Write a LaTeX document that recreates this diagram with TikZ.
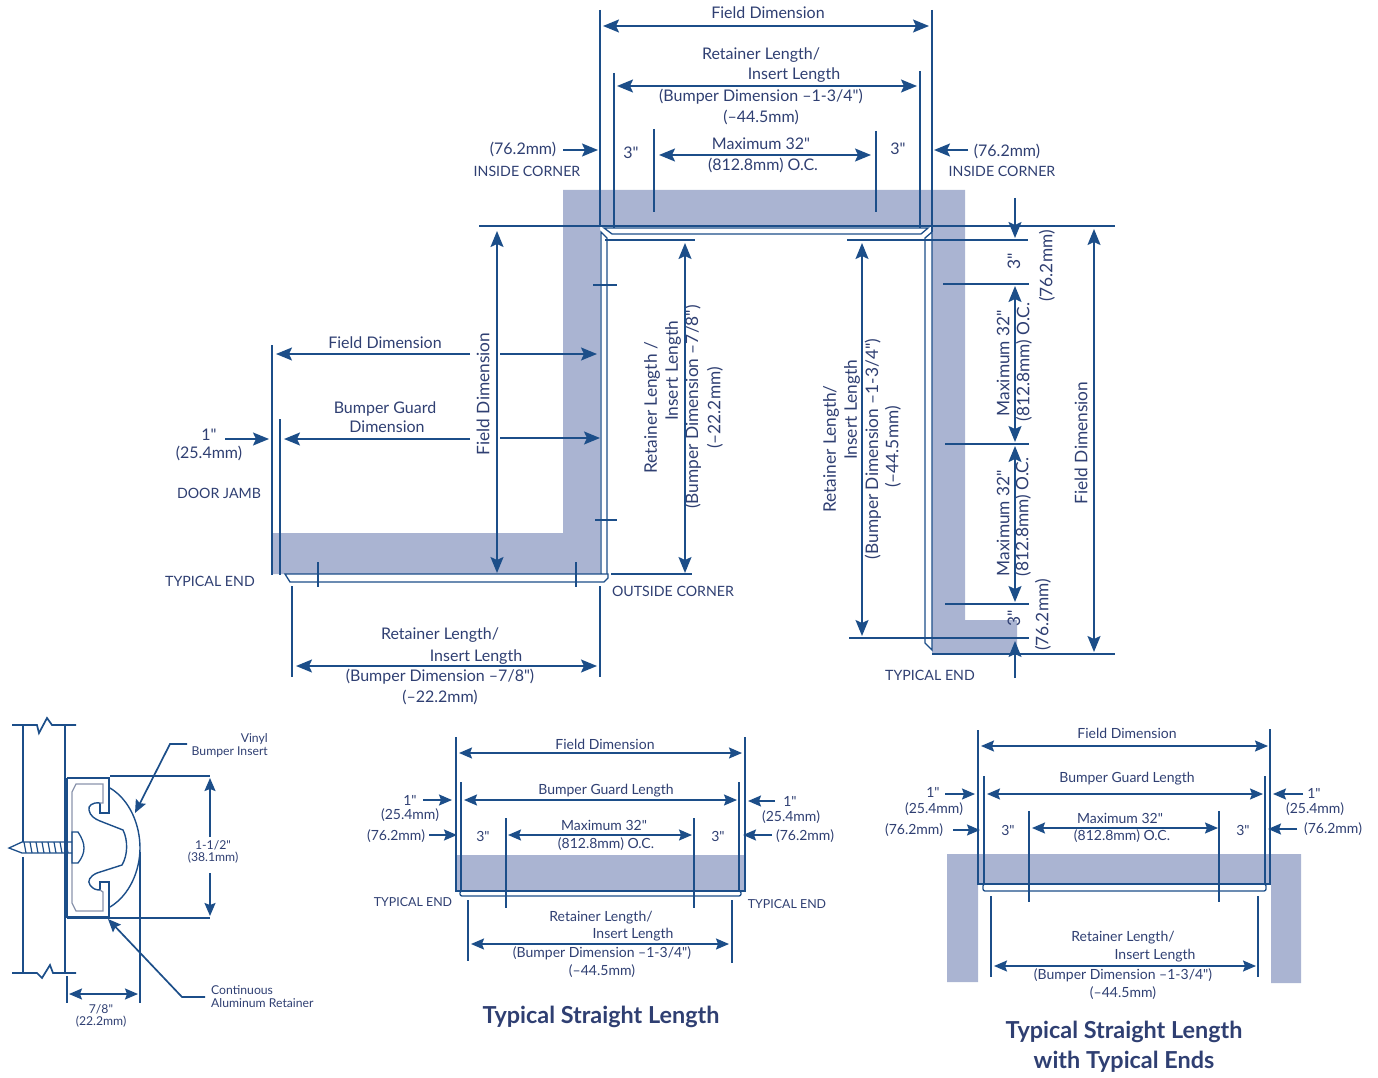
\documentclass[tikz,border=0pt]{standalone}
\usepackage{fontspec}
\setmainfont{Lato}[Ligatures=TeXOff]
\usetikzlibrary{arrows.meta}
\definecolor{dimblue}{HTML}{1C4E89}
\definecolor{bandblue}{HTML}{AAB4D2}
\definecolor{inkblue}{HTML}{2F3F72}
\definecolor{rimgrey}{HTML}{8A94AC}
\begin{document}
\begin{tikzpicture}[x=1pt,y=-1pt,
line/.style={draw=dimblue, line width=1.7pt},
dim/.style={line, {Stealth[length=16pt,width=13pt,inset=3pt]}-{Stealth[length=16pt,width=13pt,inset=3pt]}},
dimin/.style={line, -{Stealth[length=16pt,width=13pt,inset=3pt]}},
dimsm/.style={line, {Stealth[length=13pt,width=11pt,inset=2pt]}-{Stealth[length=13pt,width=11pt,inset=2pt]}},
dimsmin/.style={line, -{Stealth[length=13pt,width=11pt,inset=2pt]}},
rim/.style={draw=dimblue, line width=1.3pt, fill=white},
band/.style={fill=bandblue, draw=none},
lbl/.style={text=inkblue, inner sep=0pt, font=\fontsize{16}{16}\selectfont},
lblr/.style={text=inkblue, inner sep=0pt, rotate=90, font=\fontsize{17.3}{17}\selectfont},
lblc/.style={text=inkblue, inner sep=0pt, font=\fontsize{14.2}{14}\selectfont},
lblb/.style={text=inkblue, inner sep=0pt, font=\fontsize{14}{14}\selectfont},
lbld/.style={text=inkblue, inner sep=0pt, font=\fontsize{12.4}{12}\selectfont},
lbls/.style={text=inkblue, inner sep=0pt, font=\fontsize{12.2}{12}\selectfont},
ttl/.style={text=inkblue, inner sep=0pt, font=\fontsize{23.4}{24}\selectfont\bfseries}
]
\useasboundingbox (0,0) rectangle (1378,1078);
%Bands
\fill[band] (563,190) -- (965,190) -- (965,620) -- (1017,620) -- (1017,653) -- (932,653) -- (932,226) -- (600,226) -- (600,574) -- (272,574) -- (272,533) -- (563,533) -- cycle;
\fill[band] (456,855) rectangle (745,891);
\fill[band] (947,854) -- (1301,854) -- (1301,983) -- (1271,983) -- (1271,884) -- (978,884) -- (978,982) -- (947,982) -- cycle;
%Retainers
\draw[rim] (604,228) -- (928,228) -- (921,234) -- (612,234) -- cycle;
\draw[rim] (601,232) -- (607,238) -- (607,577) -- (601,574) -- cycle;
\draw[rim] (285,574) -- (608,574) -- (608,578) -- (604,582) -- (290,582) -- cycle;
\draw[rim] (932,232) -- (925,238) -- (925,643) -- (932,650) -- cycle;
\draw[rim, rounded corners=2pt] (460,891) -- (741,891) -- (741,896) -- (460,896) -- cycle;
\draw[rim, rounded corners=2pt] (983,884) -- (1266,884) -- (1266,891) -- (983,891) -- cycle;
%Corner nodes
\node[lbl] (fd1)  at (768,13)  {Field Dimension};
\node[lbl] (rl1)  at (761,55)  {Retainer Length/};
\node[lbl] (il1)  at (794,75)  {Insert Length};
\node[lbl] (bd1)  at (761,97)  {(Bumper Dimension –1-3/4")};
\node[lbl] (mm1)  at (761,117) {(–44.5mm)};
\node[lbl] (mx1)  at (761,144) {Maximum 32"};
\node[lbl] (oc1)  at (763,165) {(812.8mm) O.C.};
\node[lbl] (t1)   at (631,153) {3"};
\node[lbl] (t2)   at (898,149) {3"};
\node[lbl] (c1)   at (523,149) {(76.2mm)};
\node[lbl] (c2)   at (1007,151) {(76.2mm)};
\node[lblc] (ic1) at (527,171) {INSIDE CORNER};
\node[lblc] (ic2) at (1002,171) {INSIDE CORNER};
\node[lbl] (fd2)  at (385,343) {Field Dimension};
\node[lbl] (bg1)  at (385,409) {Bumper Guard};
\node[lbl] (bg2)  at (387,427) {Dimension};
\node[lbl] (in1)  at (209,435) {1"};
\node[lbl] (in2)  at (209,453) {(25.4mm)};
\node[lblc] (dj)  at (219,493) {DOOR JAMB};
\node[lblc] (te1) at (210,581) {TYPICAL END};
\node[lblc] (oc)  at (673,591) {OUTSIDE CORNER};
\node[lbl] (rl2)  at (440,635) {Retainer Length/};
\node[lbl] (il2)  at (476,657) {Insert Length};
\node[lbl] (bd2)  at (440,677) {(Bumper Dimension –7/8")};
\node[lbl] (mm2)  at (440,697) {(–22.2mm)};
\node[lblr] (fd3) at (483,394) {Field Dimension};
\node[lblr] (rl3) at (652,408) {Retainer Length /};
\node[lblr] (il3) at (673,371) {Insert Length};
\node[lblr] (bd3) at (693,407) {(Bumper Dimension –7/8")};
\node[lblr] (mm3) at (715,408) {(–22.2mm)};
\node[lblr] (rl4) at (831,449) {Retainer Length/};
\node[lblr] (il4) at (852,410) {Insert Length};
\node[lblr] (bd4) at (873,449) {(Bumper Dimension –1-3/4")};
\node[lblr] (mm4) at (893,447) {(–44.5mm)};
\node[lblr] (t3)  at (1014,261) {3"};
\node[lblr] (c3)  at (1047,266) {(76.2mm)};
\node[lblr] (mx2) at (1003,363) {Maximum 32"};
\node[lblr] (oc2) at (1024,362) {(812.8mm) O.C.};
\node[lblr] (mx3) at (1003,523) {Maximum 32"};
\node[lblr] (oc3) at (1023,517) {(812.8mm) O.C.};
\node[lblr] (t4)  at (1014,618) {3"};
\node[lblr] (c4)  at (1043,615) {(76.2mm)};
\node[lblr] (fd4) at (1081,443) {Field Dimension};
\node[lblc] (te2) at (930,675) {TYPICAL END};
%Corner lines
\draw[line] (600,10) -- (600,226);
\draw[line] (932,10) -- (932,232);
\draw[dim] (603,26) -- (929,26);
\draw[line] (614,73) -- (614,228);
\draw[line] (920,71) -- (920,228);
\draw[dim] (617,86) -- (917,86);
\draw[line] (654,129) -- (654,212);
\draw[line] (876,131) -- (876,212);
\draw[dim] (659,155) -- (871,155);
\draw[dimin] (563,150) -- (598,150);
\draw[dimin] (968,150) -- (934,150);
\draw[line] (479,226) -- (1115,226);
\draw[line] (605,240) -- (695,240);
\draw[line] (847,240) -- (1028,240);
\draw[line] (593,285) -- (617,285);
\draw[line] (595,520) -- (617,520);
\draw[dim] (497,231) -- (497,573);
\draw[dim] (685,243) -- (685,573);
\draw[line] (611,574) -- (692,574);
\draw[line] (272,345) -- (272,575);
\draw[line] (280,419) -- (280,575);
\draw[dimin] (470,354) -- (276,354);
\draw[dimin] (500,354) -- (597,354);
\draw[dimin] (470,439) -- (284,439);
\draw[dimin] (500,438) -- (600,438);
\draw[dimin] (225,439) -- (269,439);
\draw[line] (318,562) -- (318,587);
\draw[line] (576,562) -- (576,587);
\draw[line] (292,586) -- (292,677);
\draw[line] (600,586) -- (600,677);
\draw[dim] (296,666) -- (597,666);
\draw[dim] (862,243) -- (862,636);
\draw[line] (849,638) -- (1029,638);
\draw[line] (943,284) -- (1029,284);
\draw[line] (945,444) -- (1029,444);
\draw[line] (945,604) -- (1029,604);
\draw[dimin] (1015,198) -- (1015,238);
\draw[dim] (1015,286) -- (1015,442);
\draw[dim] (1015,446) -- (1015,602);
\draw[dimin] (1015,678) -- (1015,641);
\draw[line] (932,654) -- (1115,654);
\draw[dim] (1094,229) -- (1094,652);
%Straight length nodes
\node[lblb] (fd5)  at (605,744) {Field Dimension};
\node[lblb] (bl1)  at (606,791) {Bumper Guard Length};
\node[lblb] (in3)  at (410,800) {1"};
\node[lblb] (in4)  at (410,815) {(25.4mm)};
\node[lblb] (c5)   at (396,836) {(76.2mm)};
\node[lblb] (in5)  at (790,801) {1"};
\node[lblb] (in6)  at (791,817) {(25.4mm)};
\node[lblb] (c6)   at (805,836) {(76.2mm)};
\node[lblb] (t5)   at (483,836) {3"};
\node[lblb] (t6)   at (718,836) {3"};
\node[lblb] (mx4)  at (604,825) {Maximum 32"};
\node[lblb] (oc4)  at (606,844) {(812.8mm) O.C.};
\node[lbld] (te3)  at (413,902) {TYPICAL END};
\node[lbld] (te4)  at (787,904) {TYPICAL END};
\node[lblb] (rl5)  at (601,918) {Retainer Length/};
\node[lblb] (il5)  at (633,935) {Insert Length};
\node[lblb] (bd5)  at (602,953) {(Bumper Dimension –1-3/4")};
\node[lblb] (mm5)  at (602,971) {(–44.5mm)};
\node[ttl]  (ttl1) at (601,1017) {Typical Straight Length};
%Straight length lines
\draw[line] (456,737) -- (456,891) -- (745,891) -- (745,737);
\draw[dimsm] (459,753) -- (742,753);
\draw[line] (461,782) -- (461,891);
\draw[line] (739,782) -- (739,891);
\draw[dimsm] (464,800) -- (737,800);
\draw[line] (506,818) -- (506,908);
\draw[line] (694,818) -- (694,908);
\draw[dimsm] (508,835) -- (692,835);
\draw[line] (468,900) -- (468,961);
\draw[line] (732,900) -- (732,963);
\draw[dimsm] (471,944) -- (729,944);
\draw[dimsmin] (423,800) -- (452,800);
\draw[dimsmin] (775,801) -- (748,801);
\draw[dimsmin] (429,835) -- (457,835);
\draw[dimsmin] (772,835) -- (743,835);
%Typical ends nodes
\node[lblb] (fd6)  at (1127,733) {Field Dimension};
\node[lblb] (bl2)  at (1127,779) {Bumper Guard Length};
\node[lblb] (in7)  at (933,792)  {1"};
\node[lblb] (in8)  at (934,809)  {(25.4mm)};
\node[lblb] (c7)   at (914,830)  {(76.2mm)};
\node[lblb] (in9)  at (1314,793) {1"};
\node[lblb] (in10) at (1315,809) {(25.4mm)};
\node[lblb] (c8)   at (1333,829) {(76.2mm)};
\node[lblb] (t7)   at (1008,830) {3"};
\node[lblb] (t8)   at (1243,830) {3"};
\node[lblb] (mx5)  at (1120,818) {Maximum 32"};
\node[lblb] (oc5)  at (1122,836) {(812.8mm) O.C.};
\node[lblb] (rl6)  at (1123,938) {Retainer Length/};
\node[lblb] (il6)  at (1155,956) {Insert Length};
\node[lblb] (bd6)  at (1123,975) {(Bumper Dimension –1-3/4")};
\node[lblb] (mm6)  at (1123,993) {(–44.5mm)};
\node[ttl]  (ttl2) at (1124,1032) {Typical Straight Length};
\node[ttl]  (ttl3) at (1124,1062) {with Typical Ends};
%Typical ends lines
\draw[line] (978,730) -- (978,884) -- (1270,884) -- (1270,729);
\draw[dimsm] (981,746) -- (1268,746);
\draw[line] (984,776) -- (984,884);
\draw[line] (1265,776) -- (1265,884);
\draw[dimsm] (987,794) -- (1263,794);
\draw[line] (1029,811) -- (1029,902);
\draw[line] (1219,811) -- (1219,902);
\draw[dimsm] (1032,828) -- (1218,828);
\draw[line] (991,896) -- (991,977);
\draw[line] (1258,896) -- (1258,977);
\draw[dimsm] (994,966) -- (1256,966);
\draw[dimsmin] (945,794) -- (975,794);
\draw[dimsmin] (1303,794) -- (1273,794);
\draw[dimsmin] (953,830) -- (980,830);
\draw[dimsmin] (1297,829) -- (1268,829);
%Detail nodes
\node[lbls, anchor=east] (vi)  at (268,739)  {Vinyl};
\node[lbls, anchor=east] (bi)  at (268,752)  {Bumper Insert};
\node[lbls, anchor=west] (co)  at (211,990)  {Continuous};
\node[lbls, anchor=west] (ar)  at (211,1003) {Aluminum Retainer};
\node[lbls] (wd1) at (213,845)  {1-1/2"};
\node[lbls] (wd2) at (213,858)  {(38.1mm)};
\node[lbls] (dp1) at (101,1009) {7/8"};
\node[lbls] (dp2) at (101,1022) {(22.2mm)};
\coordinate (vt) at (135,813);
\coordinate (at) at (108,919);
%Detail wall
\draw[line] (12,725) -- (37,725) -- (39,733) -- (47,718) -- (52,725) -- (76,725);
\draw[line] (12,973) -- (37,973) -- (42,978) -- (50,965) -- (53,973) -- (76,973);
\draw[line] (23,725) -- (23,842);
\draw[line] (23,857) -- (23,973);
\draw[line] (65,725) -- (65,973);
%Detail retainer
\draw[line, line width=1.3pt] (67,778) -- (109,778) -- (109,813) -- (100,813) -- (100,803);
\draw[line, line width=1.3pt] (67,778) -- (67,917) -- (109,917) -- (109,882) -- (100,882) -- (100,890);
\draw[line, draw=rimgrey, line width=1.3pt] (100,803) -- (103,803) -- (103,784) -- (76,784) -- (72,792) -- (72,903) -- (76,911) -- (103,911) -- (103,892) -- (100,890);
%Detail insert
\draw[line, line width=1.4pt] (110,788) .. controls (130,800) and (140,825) .. (140,848) .. controls (140,870) and (130,895) .. (110,907);
\draw[line, line width=1.4pt] (100,803) .. controls (92,802) and (88,806) .. (89,810) .. controls (90,816) and (95,819) .. (100,821) -- (123,830) .. controls (128,840) and (128,855) .. (122,865) -- (97,873) .. controls (90,876) and (87,881) .. (90,885) .. controls (93,889) and (96,890) .. (100,890);
%Detail screw
\draw[line, line width=1.3pt] (72,832) -- (78,832) .. controls (82,838) and (84,843) .. (84,848) .. controls (84,853) and (82,858) .. (78,863) -- (72,863) -- cycle;
\draw[line, line width=1.3pt] (72,842) -- (22,842) -- (9,848) -- (22,853) -- (72,853);
\foreach \tx in {24,30,...,70}
  \draw[line, line width=1.2pt] (\tx,842) -- (\tx+2,853);
%Detail dimensions
\draw[line] (110,776) -- (210,776);
\draw[line] (67,918) -- (210,918);
\draw[dimsmin] (210,837) -- (210,778);
\draw[dimsmin] (210,873) -- (210,916);
\draw[line] (140,852) -- (140,1003);
\draw[line] (67,976) -- (67,1003);
\draw[dimsm] (69,994) -- (138,994);
\draw[dimsmin] (187,744) -- (170,744) -- (vt);
\draw[dimsmin] (205,997) -- (182,997) -- (at);
\end{tikzpicture}
\end{document}
